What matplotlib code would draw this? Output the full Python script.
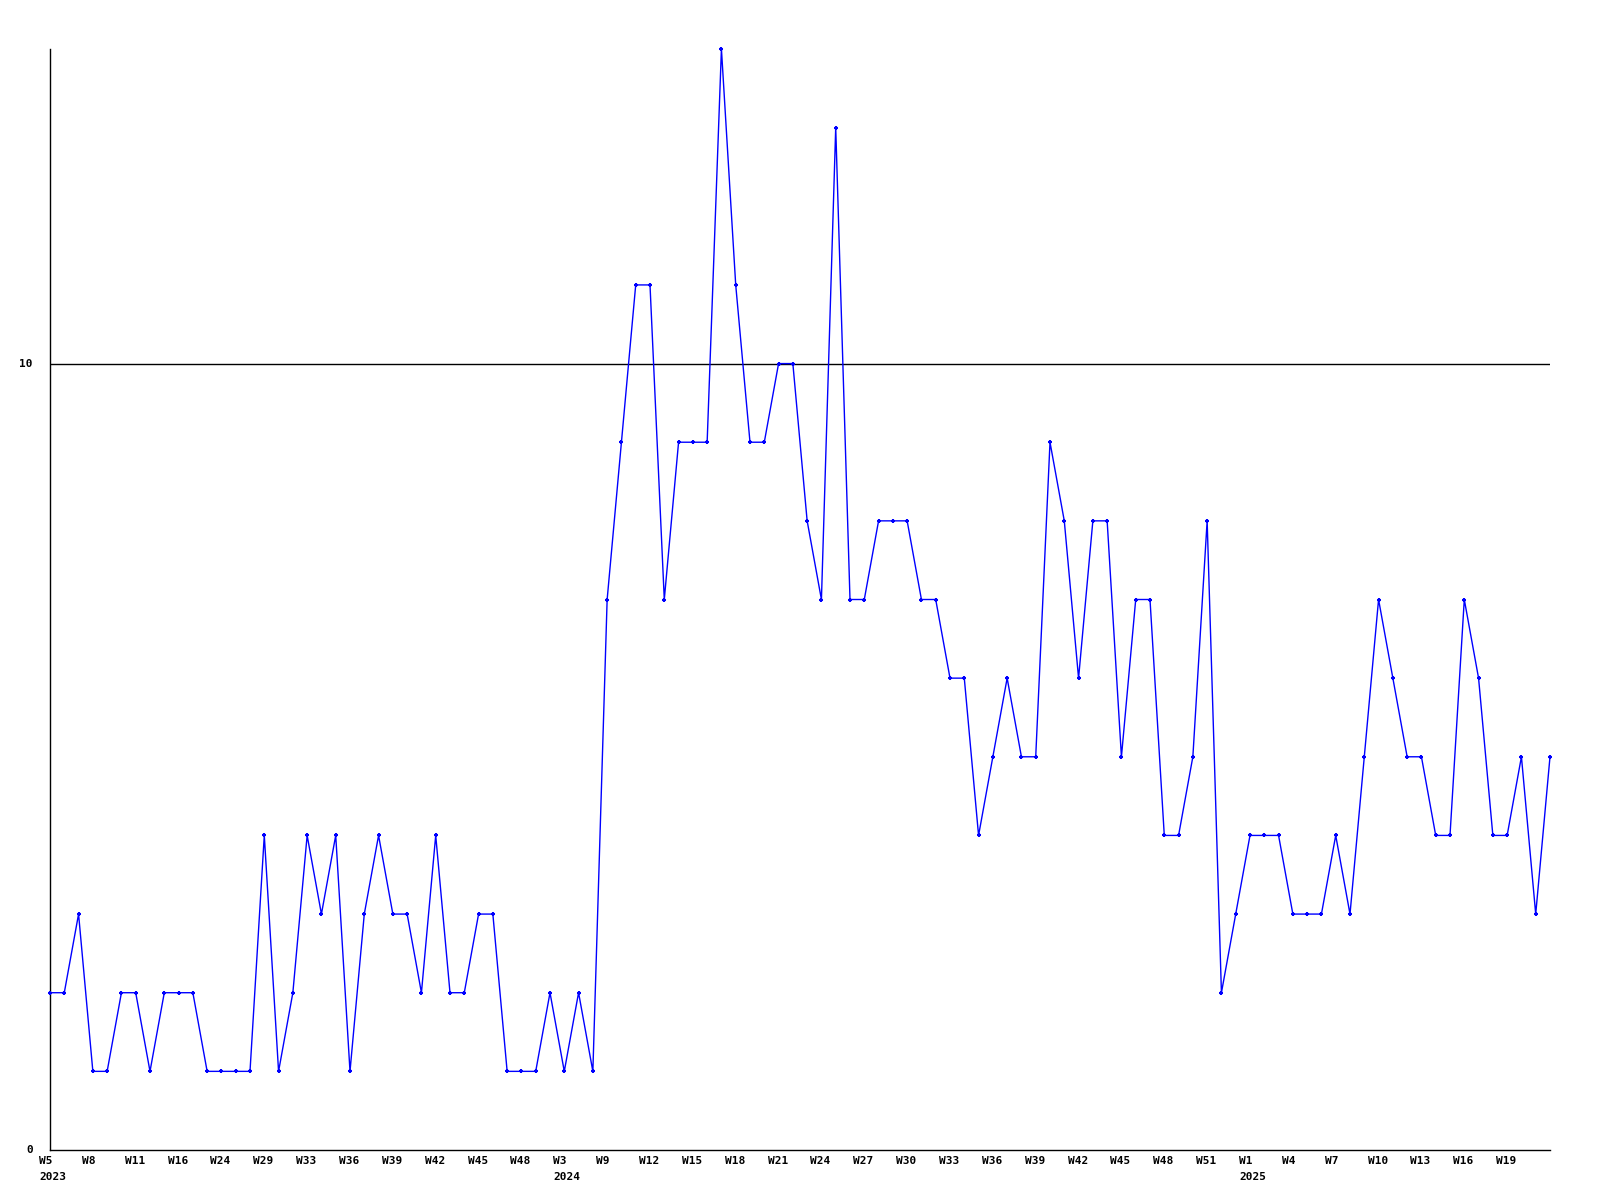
import matplotlib
matplotlib.use("Agg")
import matplotlib.pyplot as plt
from matplotlib.transforms import ScaledTranslation, blended_transform_factory

values = [2, 2, 3, 1, 1, 2, 2, 1, 2, 2, 2, 1, 1, 1, 1, 4, 1, 2, 4, 3,
          4, 1, 3, 4, 3, 3, 2, 4, 2, 2, 3, 3, 1, 1, 1, 2, 1, 2, 1, 7,
          9, 11, 11, 7, 9, 9, 9, 14, 11, 9, 9, 10, 10, 8, 7, 13, 7, 7, 8, 8,
          8, 7, 7, 6, 6, 4, 5, 6, 5, 5, 9, 8, 6, 8, 8, 5, 7, 7, 4, 4,
          5, 8, 2, 3, 4, 4, 4, 3, 3, 3, 4, 3, 5, 7, 6, 5, 5, 4, 4, 7,
          6, 4, 4, 5, 3, 5]

tick_labels = ["W5", "W8", "W11", "W16", "W24", "W29", "W33", "W36", "W39", "W42",
               "W45", "W48", "W3", "W9", "W12", "W15", "W18", "W21", "W24", "W27",
               "W30", "W33", "W36", "W39", "W42", "W45", "W48", "W51", "W1", "W4",
               "W7", "W10", "W13", "W16", "W19"]
year_positions = [0, 12, 28]  # index in tick_labels where a year label appears
years = ["2023", "2024", "2025"]

y_ticks = [0, 10]

fig = plt.figure(figsize=(16, 12), dpi=100)
ax = fig.add_axes([50/1600, 1 - 1150/1200, 1500/1600, 1101/1200])

x = list(range(len(values)))
ax.plot(x, values, color="#0000ff", lw=1.0, marker="+", ms=3.5, mew=1.5,
        clip_on=False, zorder=3)

ax.set_xlim(0, len(values) - 1)
ax.set_ylim(0, 14)

for s in ["top", "right"]:
    ax.spines[s].set_visible(False)
for s in ["left", "bottom"]:
    ax.spines[s].set_color("black")
    ax.spines[s].set_linewidth(1.0)

ax.axhline(10, color="black", lw=1.0, zorder=2)

ax.set_xticks([])
ax.set_yticks([])

font = dict(family="DejaVu Sans Mono", weight="bold", size=8)
trans = blended_transform_factory(ax.transData, ax.transAxes)
off = ScaledTranslation(-11/100, -11/100, fig.dpi_scale_trans)
off2 = ScaledTranslation(-11/100, -27/100, fig.dpi_scale_trans)
for i, lab in enumerate(tick_labels):
    ax.text(i * 3, 0, lab, transform=trans + off, ha="left", va="center",
            **font)
for pos, yr in zip(year_positions, years):
    ax.text(pos * 3, 0, yr, transform=trans + off2, ha="left", va="center",
            **font)

ytrans = blended_transform_factory(ax.transAxes, ax.transData)
yoff = ScaledTranslation(-17/100, 0, fig.dpi_scale_trans)
for v in y_ticks:
    ax.text(0, v, str(v), transform=ytrans + yoff, ha="right", va="center",
            **font)

fig.savefig("out.png", dpi=100)
